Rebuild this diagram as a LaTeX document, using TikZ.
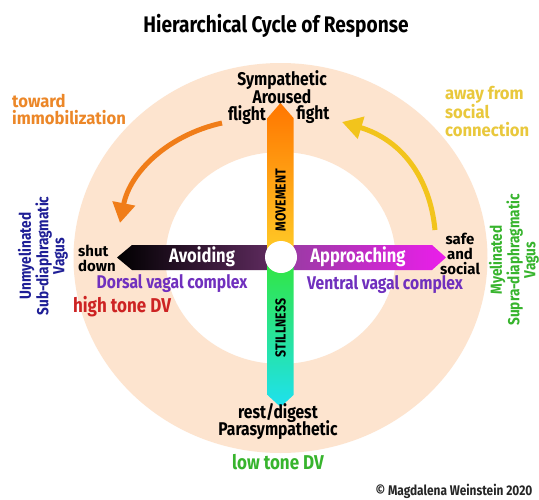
\documentclass[tikz,border=0pt]{standalone}
\usepackage{fontspec}
\setmainfont{Fira Sans}[FakeStretch=0.85]
\newfontfamily\widefont{Fira Sans}[FakeStretch=0.95]
\newfontfamily\plainfont{Fira Sans}[FakeStretch=1.0]
\usetikzlibrary{arrows.meta}
\definecolor{peach}{RGB}{253,228,207}
\definecolor{arrorange}{RGB}{240,125,25}
\definecolor{txtorange}{RGB}{236,135,40}
\definecolor{arryellow}{RGB}{242,196,28}
\definecolor{txtyellow}{RGB}{233,200,60}
\definecolor{txtpurple}{RGB}{112,48,190}
\definecolor{txtred}{RGB}{205,35,35}
\definecolor{txtblue}{RGB}{30,30,150}
\definecolor{txtgreen}{RGB}{55,180,45}
\definecolor{barleftend}{RGB}{100,45,100}
\definecolor{barrightstart}{RGB}{150,60,160}
\definecolor{barrightend}{RGB}{235,30,235}
\definecolor{vtop}{RGB}{255,118,0}
\definecolor{vmid}{RGB}{255,205,40}
\definecolor{vgreen}{RGB}{50,230,60}
\definecolor{vcyan}{RGB}{30,225,240}
\tikzset{
  lbl/.style={inner sep=0pt, font=\fontsize{18.4}{17}\selectfont\bfseries, align=center},
  tightlbl/.style={inner sep=0pt, font=\plainfont\fontsize{15}{15}\selectfont\bfseries},
  dvlbl/.style={inner sep=0pt, font=\fontsize{20}{20}\selectfont\bfseries},
  cornerlbl/.style={inner sep=0pt, font=\widefont\fontsize{17.5}{17.5}\selectfont\bfseries, align=left, anchor=west},
  vaguslbl/.style={inner sep=0pt, font=\fontsize{16}{16}\selectfont\bfseries, align=center, rotate=90},
  barlbl/.style={inner sep=0pt, white, font=\fontsize{19.5}{20}\selectfont\bfseries},
  axislbl/.style={inner sep=0pt, rotate=90, font=\fontsize{14.5}{15}\selectfont\bfseries},
  cyclearrow/.style={line width=5pt, -{Triangle[width=22pt,length=20pt]}},
}
\begin{document}
\begin{tikzpicture}[x=1pt,y=-1pt]
\useasboundingbox (0,0) rectangle (539,499);
\fill[white] (0,0) rectangle (539,499);
% ring
\fill[peach, even odd rule] (280.5,258) ellipse [x radius=207, y radius=195]
                             (280.5,258) ellipse [x radius=115, y radius=106];
% title
\node[inner sep=0pt, font=\fontsize{22.5}{24}\selectfont\bfseries] (title) at (276,26) {Hierarchical Cycle of Response};
% bars
\shade[left color=black, right color=barleftend] (281,245) -- (132,245) -- (117,257.5) -- (132,270) -- (281,270) -- cycle;
\shade[left color=barrightstart, right color=barrightend] (281,245) -- (432,245) -- (446,257.5) -- (432,270) -- (281,270) -- cycle;
\shade[top color=vtop, bottom color=vmid] (267.5,257) -- (267.5,118) -- (280.5,103) -- (293.5,118) -- (293.5,257) -- cycle;
\shade[top color=vgreen, bottom color=vcyan] (267.5,257) -- (267.5,395) -- (280.5,407) -- (293.5,395) -- (293.5,257) -- cycle;
\node[circle, fill=white, minimum size=32pt, inner sep=0pt] (hub) at (281,257) {};
% bar labels
\node[barlbl] (avoid) at (202,257) {Avoiding};
\node[barlbl] (approach) at (358,257) {Approaching};
\node[axislbl] (move) at (280.5,200) {MOVEMENT};
\node[axislbl] (still) at (280.5,328) {STILLNESS};
% top labels
\node[lbl] (symp) at (282,80) {Sympathetic};
\node[lbl] (arous) at (282,97) {Aroused};
\node[lbl] (flight) at (247,115) {flight};
\node[lbl] (fight) at (313,115) {fight};
% bottom labels
\node[lbl] (rest) at (278,413) {rest/digest};
\node[lbl] (para) at (278,430) {Parasympathetic};
\node[dvlbl, txtgreen] (low) at (278,462) {low tone DV};
% left labels
\node[tightlbl, align=left, anchor=west] (shut) at (78,258.5) {shut\\down};
\node[lbl, txtpurple] (dorsal) at (172,284) {Dorsal vagal complex};
\node[dvlbl, txtred] (high) at (122,307) {high tone DV};
\node[vaguslbl, txtblue] (unmy) at (43,256) {Unmyelinated\\Sub-diaphragmatic\\Vagus};
% right labels
\node[tightlbl, align=center] (safe) at (460,253.5) {safe\\and\\social};
\node[lbl, txtpurple] (ventral) at (385,285) {Ventral vagal complex};
\node[vaguslbl, txtgreen] (myel) at (514,260) {Myelinated\\Supra-diaphragmatic\\Vagus};
% corner labels
\node[cornerlbl, txtorange] (toward) at (12,109.5) {toward\\immobilization};
\node[cornerlbl, txtyellow] (away) at (445,111.5) {away from\\social\\connection};
% cycle arrows
\coordinate (otail) at (222,123);
\coordinate (otip) at (120,223);
\coordinate (ytail) at (435,230);
\coordinate (ytip) at (342,122);
\draw[cyclearrow, arrorange] (otail) .. controls (168,135) and (130,172) .. (otip);
\draw[cyclearrow, arryellow] (ytail) .. controls (430,178) and (402,140) .. (ytip);
% copyright
\node[inner sep=0pt, text=black!85, font=\fontsize{14}{15}\selectfont\bfseries] (copy) at (454,491) {© Magdalena Weinstein 2020};
\end{tikzpicture}
\end{document}
